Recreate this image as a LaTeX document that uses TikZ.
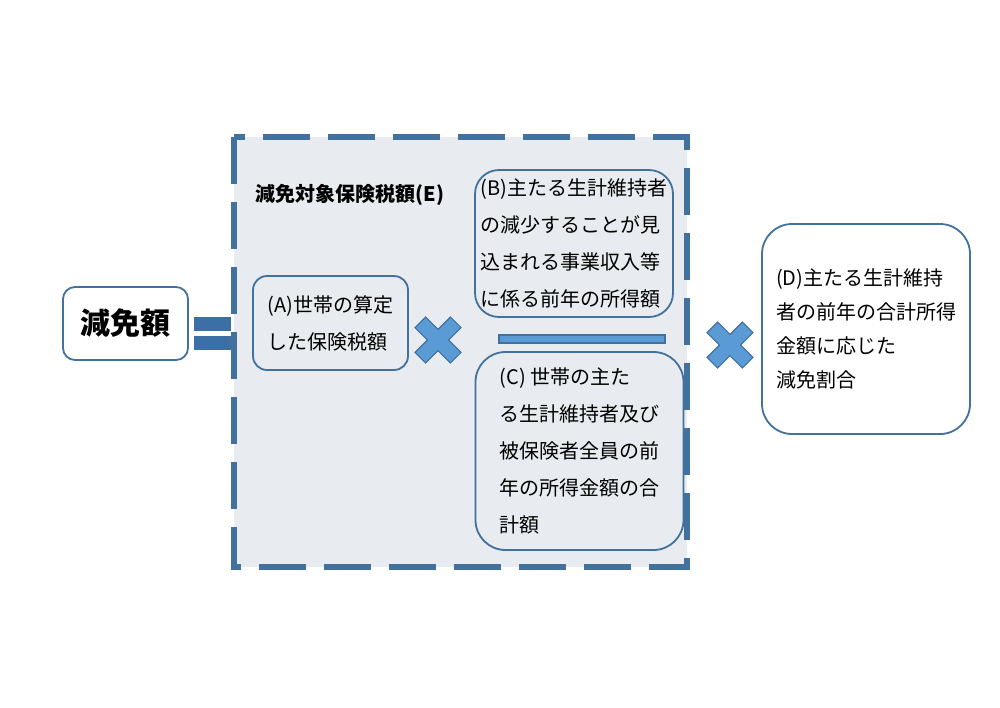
\documentclass[tikz,border=0pt]{standalone}
\usepackage{fontspec}
\setmainfont{Noto Sans CJK JP}
\usetikzlibrary{positioning}
\definecolor{frameblue}{HTML}{41719C}
\definecolor{markblue}{HTML}{5B9BD5}
\definecolor{barblue}{HTML}{3C6FA6}
\definecolor{panelgrey}{HTML}{E8EBEF}
\newcommand\timesmark[1]{%
  \draw[timesmk, shift={(#1)}, rotate=45]
    (7.5,25) -- (7.5,7.5) -- (25,7.5) -- (25,-7.5) -- (7.5,-7.5) -- (7.5,-25)
    -- (-7.5,-25) -- (-7.5,-7.5) -- (-25,-7.5) -- (-25,7.5) -- (-7.5,7.5)
    -- (-7.5,25) -- cycle;}
\begin{document}
\begin{tikzpicture}[
    x=0.5pt, y=-0.5pt,
    box/.style={draw=frameblue, line width=0.9pt, align=left, inner sep=0pt,
      font=\fontsize{10}{18.5}\selectfont},
    timesmk/.style={fill=markblue, draw=frameblue, line width=0.6pt},
    eqbar/.style={fill=barblue},
    panel/.style={fill=panelgrey, draw=frameblue, line width=2.6pt,
      dash pattern=on 23.5pt off 9pt}
  ]
    \useasboundingbox (0,0) rectangle (1000,707);

    \path[panel] (234,137) rectangle (687,567);

    \node[box, fill=white, rounded corners=6pt, minimum width=62.5pt, minimum height=36.5pt,
      font=\fontsize{15}{18}\selectfont\bfseries] (reduction) at (125.5,323.5) {減免額};

    \node[anchor=west, inner sep=0pt, font=\fontsize{10}{12}\selectfont\bfseries]
      (target) at (255,195) {減免対象保険税額(E)};

    \node[box, rounded corners=7pt, minimum width=77.5pt, minimum height=47pt]
      (household) at (330.5,323) {(A)世帯の算定\\した保険税額};
    \node[box, rounded corners=12pt, minimum width=99pt, minimum height=73.5pt]
      (business) at (574,243.5) {(B)主たる生計維持者\\の減少することが見\\込まれる事業収入等\\に係る前年の所得額};
    \node[box, rounded corners=15pt, minimum width=104pt, minimum height=99pt]
      (total) at (579.5,451) {(C) 世帯の主た\\る生計維持者及び\\被保険者全員の前\\年の所得金額の合\\計額};
    \node[box, fill=white, rounded corners=15pt, minimum width=104pt, minimum height=105pt,
      font=\fontsize{10}{17}\selectfont]
      (ratio) at (866,329) { (D)主たる生計維持\\者の前年の合計所得\\金額に応じた\\減免割合};

    \fill[eqbar] (194,317) rectangle (231,331);
    \fill[eqbar] (194,336) rectangle (231,350);
    \draw[timesmk] (499,335) rectangle (665,343);

    \coordinate (times1) at (438,340);
    \coordinate (times2) at (730,345);
    \timesmark{times1}
    \timesmark{times2}
\end{tikzpicture}
\end{document}
